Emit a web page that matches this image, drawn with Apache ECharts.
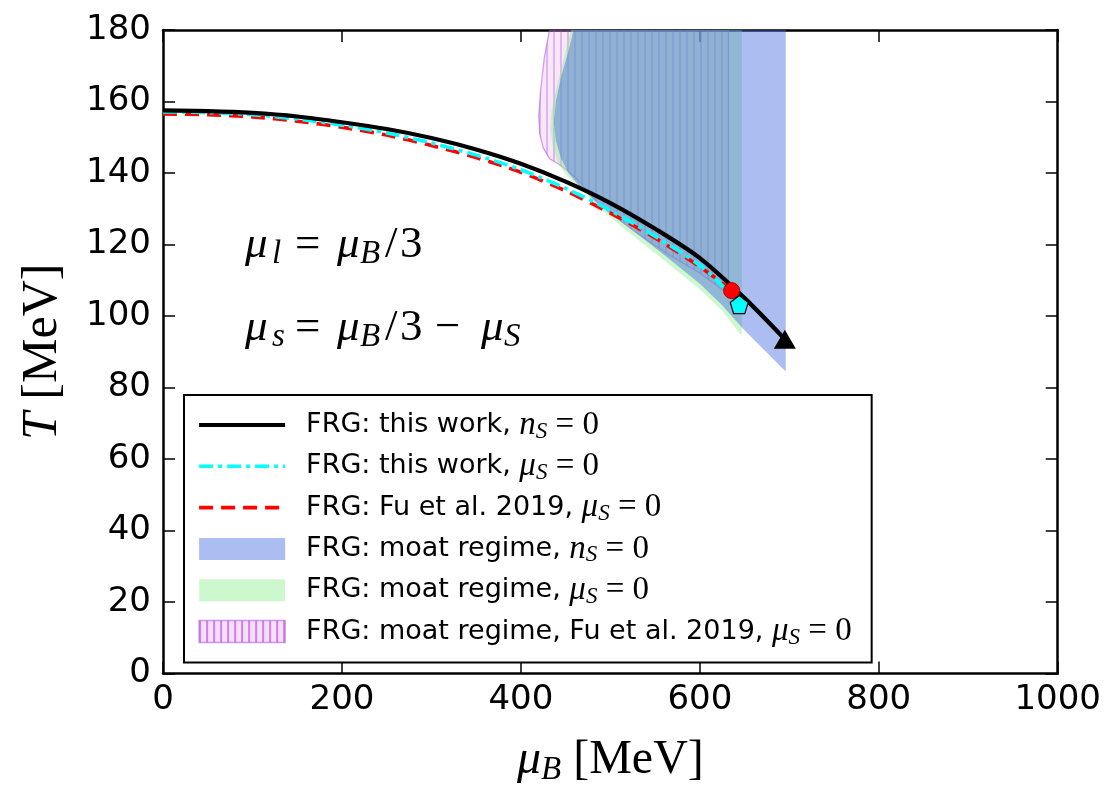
<!DOCTYPE html>
<html><head><meta charset="utf-8">
<script src="https://cdn.jsdelivr.net/npm/echarts@6/dist/echarts.min.js"></script>
<style>html,body{margin:0;padding:0;background:#fff}#c{width:1104px;height:792px}</style>
</head><body><div id="c"></div>
<script>
// ---- data (mu_B [MeV], T [MeV]) ----
const blackMu = [0, 50, 100, 150, 200, 250, 300, 350, 400, 450, 500, 550, 600, 650, 695];
const blackT  = [157.5, 157.3, 156.8, 155.8, 154.2, 152.3, 149.8, 146.6, 142.6, 137.6, 131.6, 124.4, 116.2, 105.0, 93.5];
const cyanMu  = [0, 50, 100, 150, 200, 250, 300, 350, 400, 450, 500, 550, 600, 625, 644];
const cyanT   = [157.1, 156.9, 156.3, 155.1, 153.4, 151.2, 148.4, 145.0, 140.9, 135.7, 129.5, 122.3, 114.2, 108.5, 103.3];
const redMu   = [0, 50, 100, 150, 200, 250, 300, 350, 400, 450, 500, 550, 600, 636];
const redT    = [156.5, 156.3, 155.7, 154.5, 152.8, 150.6, 147.7, 144.3, 140.2, 135.0, 128.8, 121.8, 113.8, 107.1];
const endBlack = [695, 93.5];
const endRed   = [635.5, 107.1];
const endCyan  = [644, 103.2];
const moatNS0 = [[459,180],[453,174],[445,167],[439,160],[437,154],[439,149],[445,144],[453,140],[463,137],[475,134],[488,131],[525,124],[563,116.5],[600,109],[625,103],[648,96.5],[672,90.5],[696,84.5],[696,180]];
const moatMuS0 = [[456,180],[448,172],[440,164],[434,157],[433,152],[436,147],[442,142.5],[452,139],[465,136],[488,130],[525,122.5],[563,115],[600,107.5],[625,101.5],[645,95],[647,95],[647,180]];
const moatFu = [[432,180],[426,172],[422,163],[420,156],[421,151],[425,147],[432,144],[442,142.5],[453,140.5],[466,137.5],[488,131],[525,124],[563,117.5],[600,112],[632,106],[632,180]];
const xTicks = {min: 0, max: 1000, step: 200};
const yTicks = {min: 0, max: 180, step: 20};

const zip = (a, b) => a.map((v, i) => [v, b[i]]);

// hatch pattern for Fu et al. moat region
const pc = document.createElement('canvas');
pc.width = 7; pc.height = 8;
const g = pc.getContext('2d');
g.fillStyle = 'rgba(230,140,230,0.22)'; g.fillRect(0, 0, 7, 8);
g.fillStyle = 'rgba(150,60,210,0.28)'; g.fillRect(0, 0, 2, 8);
const hatch = {image: pc, repeat: 'repeat'};
const lc = document.createElement('canvas');
lc.width = 7; lc.height = 8;
const g2 = lc.getContext('2d');
g2.fillStyle = 'rgba(235,160,240,0.35)'; g2.fillRect(0, 0, 7, 8);
g2.fillStyle = 'rgba(170,70,220,0.6)'; g2.fillRect(0, 0, 2, 8);
const hatchLegend = {image: lc, repeat: 'repeat'};

const BLUE = 'rgba(65,105,225,0.44)';
const GREEN = 'rgba(144,238,144,0.45)';

function poly(name, pts, fill, stroke, z) {
  return {
    type: 'custom', name, coordinateSystem: 'cartesian2d', clip: true, z, silent: true,
    data: pts, encode: {x: 0, y: 1},
    renderItem(params, api) {
      if (params.dataIndex !== 0) return null;
      const p = pts.map(q => api.coord(q));
      return {type: 'polygon', shape: {points: p},
        style: {fill, stroke: stroke || null, lineWidth: stroke ? 1.3 : 0}};
    }
  };
}

const SERIF = "'Liberation Serif', 'DejaVu Serif', serif";
const SANS = "'DejaVu Sans', sans-serif";

const L = {
  a: 'FRG: this work, n_S=0',
  b: 'FRG: this work, mu_S=0',
  c: 'FRG: Fu et al. 2019, mu_S=0',
  d: 'FRG: moat regime, n_S=0',
  e: 'FRG: moat regime, mu_S=0',
  f: 'FRG: moat regime, Fu et al. 2019, mu_S=0'
};
const EQ = '{eq| = 0}';
const legendText = {
  [L.a]: '{g|}{t|FRG: this work, }{mi|n}{sub|S}' + EQ,
  [L.b]: '{g|}{t|FRG: this work, }{mi|μ}{sub|S}' + EQ,
  [L.c]: '{g|}{t|FRG: Fu et al. 2019, }{mi|μ}{sub|S}' + EQ,
  [L.d]: '{g|}{t|FRG: moat regime, }{mi|n}{sub|S}' + EQ,
  [L.e]: '{g|}{t|FRG: moat regime, }{mi|μ}{sub|S}' + EQ,
  [L.f]: '{g|}{t|FRG: moat regime, Fu et al. 2019, }{mi|μ}{sub|S}' + EQ
};

const axisCommon = {
  type: 'value',
  axisLine: {show: true, onZero: false, lineStyle: {color: '#000', width: 2.5}},
  axisTick: {show: true, inside: true, length: 12, lineStyle: {color: '#000', width: 1.5}},
  splitLine: {show: false}
};
const hideSym = {color: 'rgba(0,0,0,0)', borderWidth: 0, opacity: 0};

const ann = {
  mu27: {fontFamily: SERIF, fontStyle: 'italic', fontSize: 45, lineHeight: 48, width: 27, fill: '#000'},
  mu23: {fontFamily: SERIF, fontStyle: 'italic', fontSize: 45, lineHeight: 48, width: 23, fill: '#000'},
  sl:   {fontFamily: SERIF, fontStyle: 'italic', fontSize: 33, lineHeight: 48, width: 23, padding: [18, 0, 0, 0], fill: '#000'},
  sB:   {fontFamily: SERIF, fontStyle: 'italic', fontSize: 33, lineHeight: 48, width: 25, padding: [18, 0, 0, 0], fill: '#000'},
  sS:   {fontFamily: SERIF, fontStyle: 'italic', fontSize: 33, lineHeight: 48, width: 22, padding: [18, 0, 0, 0], fill: '#000'},
  eq:   {fontFamily: SERIF, fontSize: 45, lineHeight: 48, width: 42, fill: '#000'},
  sl2:  {fontFamily: SERIF, fontSize: 45, lineHeight: 48, width: 15, fill: '#000'},
  d3:   {fontFamily: SERIF, fontSize: 45, lineHeight: 48, width: 22, fill: '#000'},
  d3b:  {fontFamily: SERIF, fontSize: 45, lineHeight: 48, width: 35, fill: '#000'},
  mn:   {fontFamily: SERIF, fontSize: 45, lineHeight: 48, width: 46, fill: '#000'}
};

const legendLine = (color, width, type) => ({color, width, type, opacity: 1});

const chart = echarts.init(document.getElementById('c'), null, {renderer: 'canvas'});
chart.setOption({
  animation: false,
  backgroundColor: '#fff',
  grid: {left: 163, right: 46, top: 30, bottom: 112, containLabel: false},
  xAxis: [
    Object.assign({}, axisCommon, {
      min: xTicks.min, max: xTicks.max, interval: xTicks.step, position: 'bottom',
      axisLabel: {color: '#000', fontSize: 34, fontFamily: SANS, margin: 10, formatter: v => String(v)},
      name: '{m|μ}{s|B}{r| [MeV]}', nameLocation: 'middle', nameGap: 61,
      nameTextStyle: {rich: {
        m: {fontFamily: SERIF, fontStyle: 'italic', fontSize: 48, lineHeight: 52, color: '#000'},
        s: {fontFamily: SERIF, fontStyle: 'italic', fontSize: 33, lineHeight: 52, padding: [20, 0, 0, 0], color: '#000'},
        r: {fontFamily: SERIF, fontSize: 48, lineHeight: 52, color: '#000'}
      }}
    }),
    Object.assign({}, axisCommon, {
      min: xTicks.min, max: xTicks.max, interval: xTicks.step, position: 'top',
      axisLabel: {show: false}
    })
  ],
  yAxis: [
    Object.assign({}, axisCommon, {
      min: yTicks.min, max: yTicks.max, interval: yTicks.step, position: 'left',
      axisLabel: {color: '#000', fontSize: 34, fontFamily: SANS, margin: 12},
      name: '{m|T}{r| [MeV]}', nameLocation: 'middle', nameGap: 94,
      nameTextStyle: {rich: {
        m: {fontFamily: SERIF, fontStyle: 'italic', fontSize: 50, lineHeight: 52, color: '#000'},
        r: {fontFamily: SERIF, fontSize: 50, lineHeight: 52, color: '#000'}
      }}
    }),
    Object.assign({}, axisCommon, {
      min: yTicks.min, max: yTicks.max, interval: yTicks.step, position: 'right',
      axisLabel: {show: false}
    })
  ],
  legend: {
    orient: 'vertical', left: 184, top: 395, selectedMode: false,
    backgroundColor: '#fff', borderColor: '#000', borderWidth: 2, borderRadius: 0,
    padding: [12, 20, 13, 13], itemWidth: 86, itemHeight: 22, itemGap: 5.3,
    data: [
      {name: L.a, itemStyle: hideSym, lineStyle: legendLine('#000', 4.2, 'solid')},
      {name: L.b, itemStyle: hideSym, lineStyle: legendLine('#00ffff', 3.6, [14, 5, 4, 5])},
      {name: L.c, itemStyle: hideSym, lineStyle: legendLine('#ff0000', 3.6, [14, 8])},
      {name: L.d, icon: 'rect', itemStyle: {color: BLUE, borderWidth: 0}},
      {name: L.e, icon: 'rect', itemStyle: {color: GREEN, borderWidth: 0}},
      {name: L.f, icon: 'rect', itemStyle: {color: hatchLegend, borderColor: 'rgba(180,90,230,0.6)', borderWidth: 1.5}}
    ],
    formatter: name => legendText[name],
    textStyle: {
      color: '#000',
      rich: {
        g: {width: 16, lineHeight: 22},
        t: {fontFamily: SANS, fontSize: 27, lineHeight: 22, color: '#000'},
        mi: {fontFamily: SERIF, fontStyle: 'italic', fontSize: 33, lineHeight: 22, color: '#000'},
        sub: {fontFamily: SERIF, fontStyle: 'italic', fontSize: 23, lineHeight: 22, padding: [13, 0, 0, 0], color: '#000'},
        eq: {fontFamily: SERIF, fontSize: 33, lineHeight: 22, color: '#000'}
      }
    }
  },
  graphic: [
    {type: 'text', left: 245, top: 220, z: 10, style: {
      text: '{mu27|μ}{sl|l}{eq|=}{mu23|μ}{sB|B}{sl2|/}{d3|3}', rich: ann}},
    {type: 'text', left: 245, top: 303, z: 10, style: {
      text: '{mu27|μ}{sl|s}{eq|=}{mu23|μ}{sB|B}{sl2|/}{d3b|3}{mn|−}{mu23|μ}{sS|S}', rich: ann}}
  ],
  series: [
    poly(L.f, moatFu, hatch, 'rgba(170,70,230,0.5)', 1),
    poly(L.e, moatMuS0, GREEN, null, 1),
    poly(L.d, moatNS0, BLUE, null, 1),
    {name: L.c, type: 'line', data: zip(redMu, redT), smooth: 0.3, symbol: 'none', z: 4,
      itemStyle: {color: '#ff0000'}, lineStyle: {color: '#ff0000', width: 3.6, type: [14, 8]}},
    {name: L.b, type: 'line', data: zip(cyanMu, cyanT), smooth: 0.3, symbol: 'none', z: 5,
      itemStyle: {color: '#00ffff'}, lineStyle: {color: '#00ffff', width: 3.6, type: [14, 5, 4, 5]}},
    {name: L.a, type: 'line', data: zip(blackMu, blackT), smooth: 0.3, symbol: 'none', z: 6,
      itemStyle: {color: '#000'}, lineStyle: {color: '#000', width: 4.2}},
    {type: 'scatter', data: [endBlack], symbol: 'triangle', symbolSize: [22, 19], z: 8, silent: true,
      itemStyle: {color: '#000', opacity: 1}},
    {type: 'scatter', data: [endRed], symbol: 'circle', symbolSize: 16, z: 8, silent: true,
      itemStyle: {color: '#ff0000', borderColor: '#a00', borderWidth: 1, opacity: 1}},
    {type: 'scatter', data: [endCyan], symbol: 'path://M0,-1 L0.951,-0.309 L0.588,0.809 L-0.588,0.809 L-0.951,-0.309 Z',
      symbolSize: 18, z: 9, silent: true,
      itemStyle: {color: '#00ffff', borderColor: '#000', borderWidth: 1.2, opacity: 1}}
  ]
});
</script>
</body></html>
